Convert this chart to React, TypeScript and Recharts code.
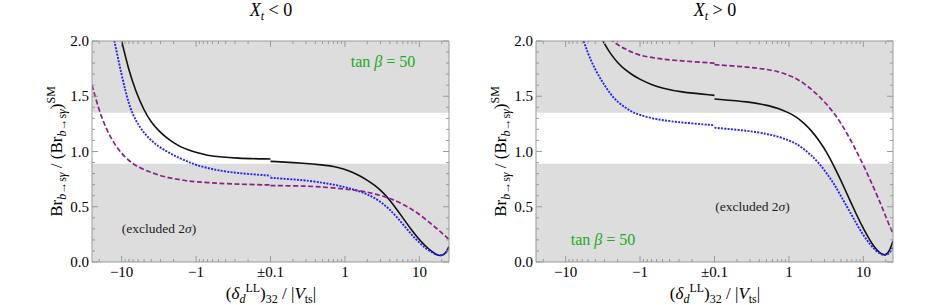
import React from 'react';
import { LineChart, Line, XAxis, YAxis, ReferenceArea } from 'recharts';

// ---------- data ----------
// x values: (delta_d^LL)_32 / |V_ts|, drawn on a symmetric-log axis (±0.1 collapsed to one point)
const deltaNeg = [-25, -20, -16, -13, -10, -8, -6.5, -5, -4, -3.2, -2.5, -2, -1.6, -1.25, -1, -0.7, -0.5, -0.3, -0.1];
const deltaPos = [0.1, 0.3, 0.5, 0.7, 1, 1.25, 1.6, 2, 2.5, 3.2, 4, 5, 6.5, 8, 10, 12.5, 15, 17, 19, 21, 23, 25];

// Left panel: X_t < 0
const blackNegL = [3.5, 3.05, 2.65, 2.33, 2.0, 1.733, 1.55, 1.37, 1.265, 1.19, 1.125, 1.08, 1.04, 1.012, 0.992, 0.964, 0.953, 0.939, 0.932];
const blackPosL = [0.911, 0.893, 0.878, 0.867, 0.84, 0.815, 0.778, 0.74, 0.695, 0.635, 0.562, 0.475, 0.365, 0.283, 0.2, 0.135, 0.09, 0.066, 0.056, 0.064, 0.09, 0.14];
const blueNegL = [3.3, 2.8, 2.35, 2.05, 1.69, 1.42, 1.28, 1.165, 1.1, 1.045, 1.003, 0.966, 0.935, 0.904, 0.877, 0.85, 0.829, 0.806, 0.781];
const bluePosL = [0.762, 0.74, 0.717, 0.701, 0.678, 0.66, 0.638, 0.613, 0.58, 0.532, 0.475, 0.405, 0.315, 0.24, 0.175, 0.115, 0.084, 0.066, 0.059, 0.065, 0.085, 0.132];
const purpleNegL = [1.6, 1.366, 1.2, 1.085, 0.98, 0.918, 0.873, 0.834, 0.81, 0.787, 0.767, 0.755, 0.744, 0.731, 0.726, 0.719, 0.712, 0.705, 0.697];
const purplePosL = [0.692, 0.688, 0.678, 0.671, 0.66, 0.652, 0.644, 0.633, 0.616, 0.598, 0.575, 0.549, 0.511, 0.474, 0.432, 0.379, 0.336, 0.305, 0.276, 0.251, 0.227, 0.206];

// Right panel: X_t > 0
const blackNegR = [4.3, 3.9, 3.56, 3.29, 2.97, 2.73, 2.53, 2.3, 2.14, 2.005, 1.883, 1.803, 1.74, 1.69, 1.652, 1.604, 1.573, 1.539, 1.508];
const blackPosR = [1.475, 1.45, 1.418, 1.395, 1.35, 1.315, 1.255, 1.19, 1.106, 0.997, 0.872, 0.738, 0.567, 0.435, 0.3, 0.185, 0.11, 0.078, 0.062, 0.072, 0.118, 0.19];
const blueNegR = [3.8, 3.45, 3.15, 2.88, 2.57, 2.32, 2.11, 1.88, 1.74, 1.628, 1.518, 1.448, 1.4, 1.353, 1.33, 1.3, 1.284, 1.263, 1.238];
const bluePosR = [1.215, 1.187, 1.159, 1.138, 1.1, 1.072, 1.02, 0.965, 0.9, 0.805, 0.712, 0.597, 0.46, 0.352, 0.24, 0.152, 0.096, 0.073, 0.061, 0.066, 0.088, 0.14];
const purpleNegR = [2.95, 2.81, 2.69, 2.58, 2.46, 2.37, 2.29, 2.2, 2.13, 2.07, 2.013, 1.967, 1.928, 1.895, 1.869, 1.851, 1.835, 1.821, 1.8];
const purplePosR = [1.786, 1.763, 1.743, 1.727, 1.69, 1.66, 1.616, 1.562, 1.506, 1.43, 1.35, 1.257, 1.124, 1.008, 0.878, 0.735, 0.615, 0.529, 0.448, 0.376, 0.31, 0.26];

// allowed (2 sigma) region; outside is shaded
const allowedBand = [0.89, 1.35];

// ticks
const xMajorValues = [-10, -1, 0.1, 1, 10];
const xMajorLabels = ['\u221210', '\u22121', '\u00b10.1', '1', '10'];
const xMinorValues = [
  -20, -9, -8, -7, -6, -5, -4, -3, -2, -0.9, -0.8, -0.7, -0.6, -0.5, -0.4, -0.3, -0.2,
  0.2, 0.3, 0.4, 0.5, 0.6, 0.7, 0.8, 0.9, 2, 3, 4, 5, 6, 7, 8, 9, 20,
];
const yTicks = [0, 0.1, 0.2, 0.3, 0.4, 0.5, 0.6, 0.7, 0.8, 0.9, 1.0, 1.1, 1.2, 1.3, 1.4, 1.5, 1.6, 1.7, 1.8, 1.9, 2.0];
const yMajor = [0, 0.5, 1.0, 1.5, 2.0];
const yMajorLabels = ['0.0', '0.5', '1.0', '1.5', '2.0'];

// ---------- styling ----------
const FONT = '"Liberation Serif", "DejaVu Serif", serif';
const FRAME = '#9a9a9a';
const BAND = '#dddddd';
const BLACK = '#111111';
const BLUE = '#2424ee';
const PURPLE = '#872388';
const GREEN = '#22aa22';

const symlog = (d: number) => Math.sign(d) * (Math.log10(Math.abs(d)) + 1);
const U_MIN = symlog(deltaNeg[0]);
const U_MAX = symlog(deltaPos[deltaPos.length - 1]);
const xMajorU = xMajorValues.map(symlog);
const xTicksU = [...xMajorValues, ...xMinorValues].map(symlog).sort((a, b) => a - b);

const rows = (deltas: number[], values: number[], key: string) =>
  deltas.map((d, i) => ({ u: symlog(d), [key]: values[i] }));

const near = (a: number, b: number) => Math.abs(a - b) < 1e-6;
const txt = { fontFamily: FONT };

const BottomTick = (props: any) => {
  const { x, y, payload } = props;
  const idx = xMajorU.findIndex((m) => near(m, payload.value));
  const major = idx >= 0;
  return (
    <g>
      <line x1={x} y1={y} x2={x} y2={y - (major ? 6 : 3)} stroke={FRAME} strokeWidth={1} />
      {major && (
        <text x={x} y={y + 15} textAnchor="middle" style={txt} fontSize={15} fill="#000">
          {xMajorLabels[idx]}
        </text>
      )}
    </g>
  );
};

const TopTick = (props: any) => {
  const { x, y, payload } = props;
  const major = xMajorU.some((m) => near(m, payload.value));
  return <line x1={x} y1={y} x2={x} y2={y + (major ? 6 : 3)} stroke={FRAME} strokeWidth={1} />;
};

const LeftTick = (props: any) => {
  const { x, y, payload } = props;
  const idx = yMajor.findIndex((m) => near(m, payload.value));
  const major = idx >= 0;
  return (
    <g>
      <line x1={x} y1={y} x2={x + (major ? 6 : 3)} y2={y} stroke={FRAME} strokeWidth={1} />
      {major && (
        <text x={x - 3} y={y + 5} textAnchor="end" style={txt} fontSize={15} fill="#000">
          {yMajorLabels[idx]}
        </text>
      )}
    </g>
  );
};

const RightTick = (props: any) => {
  const { x, y, payload } = props;
  const major = yMajor.some((m) => near(m, payload.value));
  return <line x1={x} y1={y} x2={x - (major ? 6 : 3)} y2={y} stroke={FRAME} strokeWidth={1} />;
};

type PanelProps = {
  width: number;
  margin: { top: number; right: number; bottom: number; left: number };
  series: { neg: number[]; pos: number[]; name: string; color: string; dash?: string; w: number }[];
};

// axis thickness (the plot area = margin + these)
const BOTTOM_H = 20;
const TOP_H = 10;
const LEFT_W = 40;
const RIGHT_W = 10;

const Panel = ({ width, margin, series }: PanelProps) => (
  <LineChart
    width={width}
    height={305}
    margin={{
      top: margin.top - TOP_H,
      bottom: margin.bottom - BOTTOM_H,
      left: margin.left - LEFT_W,
      right: margin.right - RIGHT_W,
    }}
  >
    <ReferenceArea y1={0} y2={allowedBand[0]} fill={BAND} fillOpacity={1} stroke="none" />
    <ReferenceArea y1={allowedBand[1]} y2={2} fill={BAND} fillOpacity={1} stroke="none" />
    <XAxis
      type="number"
      dataKey="u"
      domain={[U_MIN, U_MAX]}
      allowDataOverflow
      ticks={xTicksU}
      interval={0}
      height={BOTTOM_H}
      tickSize={0}
      tickMargin={0}
      tickLine={false}
      tick={BottomTick}
      axisLine={{ stroke: FRAME }}
    />
    <XAxis
      xAxisId="top"
      orientation="top"
      type="number"
      dataKey="u"
      domain={[U_MIN, U_MAX]}
      allowDataOverflow
      ticks={xTicksU}
      interval={0}
      height={TOP_H}
      tickSize={0}
      tickMargin={0}
      tickLine={false}
      tick={TopTick}
      axisLine={{ stroke: FRAME }}
    />
    <YAxis
      type="number"
      domain={[0, 2]}
      allowDataOverflow
      ticks={yTicks}
      interval={0}
      width={LEFT_W}
      tickSize={0}
      tickMargin={0}
      tickLine={false}
      tick={LeftTick}
      axisLine={{ stroke: FRAME }}
    />
    <YAxis
      yAxisId="right"
      orientation="right"
      type="number"
      domain={[0, 2]}
      allowDataOverflow
      ticks={yTicks}
      interval={0}
      width={RIGHT_W}
      tickSize={0}
      tickMargin={0}
      tickLine={false}
      tick={RightTick}
      axisLine={{ stroke: FRAME }}
    />
    {series.flatMap((s) => [
      <Line
        key={s.name + 'neg'}
        data={rows(deltaNeg, s.neg, s.name + 'Neg')}
        dataKey={s.name + 'Neg'}
        type="basis"
        stroke={s.color}
        strokeWidth={s.w}
        strokeDasharray={s.dash}
        dot={false}
        activeDot={false}
        isAnimationActive={false}
      />,
      <Line
        key={s.name + 'pos'}
        data={rows(deltaPos, s.pos, s.name + 'Pos')}
        dataKey={s.name + 'Pos'}
        type="basis"
        stroke={s.color}
        strokeWidth={s.w}
        strokeDasharray={s.dash}
        dot={false}
        activeDot={false}
        isAnimationActive={false}
      />,
    ])}
  </LineChart>
);

const Title = ({ cx, sign }: { cx: number; sign: string }) => (
  <text x={cx} y={15.5} textAnchor="middle" style={txt} fontSize={18} fill="#000">
    <tspan fontStyle="italic">X</tspan>
    <tspan fontStyle="italic" fontSize={12} dy={4}>t</tspan>
    <tspan dy={-4}>{` ${sign} 0`}</tspan>
  </text>
);

const XLabel = ({ cx }: { cx: number }) => (
  <text x={cx} y={299} textAnchor="middle" style={txt} fontSize={17} fill="#000">
    <tspan>(</tspan>
    <tspan fontStyle="italic">δ</tspan>
    <tspan fontStyle="italic" fontSize={12} dy={4}>d</tspan>
    <tspan fontSize={12} dy={-11}>LL</tspan>
    <tspan dy={7}>)</tspan>
    <tspan fontSize={12} dy={4}>32</tspan>
    <tspan dy={-4}>{' / |'}</tspan>
    <tspan fontStyle="italic">V</tspan>
    <tspan fontSize={12} dy={4}>ts</tspan>
    <tspan dy={-4}>|</tspan>
  </text>
);

const YLabel = ({ bx, cy }: { bx: number; cy: number }) => (
  <text
    transform={`translate(${bx},${cy}) rotate(-90)`}
    x={0}
    y={0}
    textAnchor="middle"
    style={txt}
    fontSize={17}
    fill="#000"
  >
    <tspan>Br</tspan>
    <tspan fontSize={12} dy={4}>
      <tspan fontStyle="italic">b</tspan>→s<tspan fontStyle="italic">γ</tspan>
    </tspan>
    <tspan dy={-4}>{' / (Br'}</tspan>
    <tspan fontSize={12} dy={4}>
      <tspan fontStyle="italic">b</tspan>→s<tspan fontStyle="italic">γ</tspan>
    </tspan>
    <tspan dy={-4}>)</tspan>
    <tspan fontSize={12} dy={-7}>SM</tspan>
  </text>
);

const TanBeta = ({ cx, by }: { cx: number; by: number }) => (
  <text x={cx} y={by} textAnchor="middle" style={txt} fontSize={16} fill={GREEN}>
    tan <tspan fontStyle="italic">β</tspan> = 50
  </text>
);

const Excluded = ({ cx, by }: { cx: number; by: number }) => (
  <text x={cx} y={by} textAnchor="middle" style={txt} fontSize={13.5} fill="#222">
    (excluded 2<tspan fontStyle="italic">σ</tspan>)
  </text>
);

export default function App() {
  const leftSeries = [
    { name: 'black', neg: blackNegL, pos: blackPosL, color: BLACK, w: 1.6 },
    { name: 'blue', neg: blueNegL, pos: bluePosL, color: BLUE, dash: '2 1.3', w: 1.9 },
    { name: 'purple', neg: purpleNegL, pos: purplePosL, color: PURPLE, dash: '5 2.5', w: 1.7 },
  ];
  const rightSeries = [
    { name: 'black', neg: blackNegR, pos: blackPosR, color: BLACK, w: 1.6 },
    { name: 'blue', neg: blueNegR, pos: bluePosR, color: BLUE, dash: '2 1.3', w: 1.9 },
    { name: 'purple', neg: purpleNegR, pos: purplePosR, color: PURPLE, dash: '5 2.5', w: 1.7 },
  ];
  return (
    <div style={{ position: 'absolute', left: 0, top: 0, width: 937, height: 305, background: '#fff' }}>
      <div style={{ position: 'absolute', left: 0, top: 0 }}>
        <Panel width={468} margin={{ top: 41, right: 19, bottom: 43, left: 92 }} series={leftSeries} />
      </div>
      <div style={{ position: 'absolute', left: 468, top: 0 }}>
        <Panel width={469} margin={{ top: 41, right: 44, bottom: 43, left: 68 }} series={rightSeries} />
      </div>
      <svg
        width={937}
        height={305}
        style={{ position: 'absolute', left: 0, top: 0, pointerEvents: 'none' }}
      >
        <Title cx={271} sign="<" />
        <Title cx={715} sign=">" />
        <XLabel cx={271} />
        <XLabel cx={715} />
        <YLabel bx={62} cy={151.5} />
        <YLabel bx={505.5} cy={151.5} />
        <TanBeta cx={383} by={67} />
        <TanBeta cx={603} by={244.5} />
        <Excluded cx={159} by={233} />
        <Excluded cx={752.5} by={211} />
      </svg>
    </div>
  );
}
